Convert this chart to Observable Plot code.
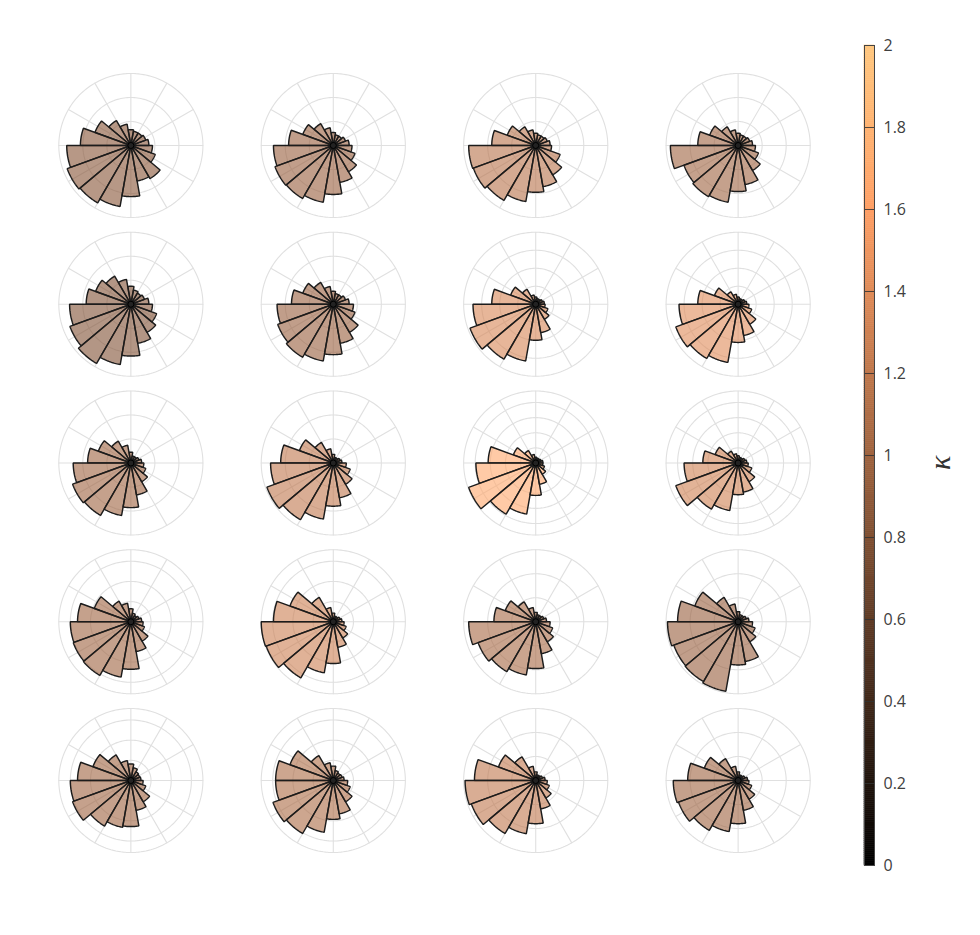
<!DOCTYPE html>
<html><head><meta charset="utf-8">
<script src="https://cdn.jsdelivr.net/npm/d3@7"></script>
<script src="https://cdn.jsdelivr.net/npm/@observablehq/plot@0.6"></script>
<style>
html,body{margin:0;padding:0;background:#fff;}
#wrap{position:relative;width:980px;height:935px;overflow:hidden;font-family:"Open Sans",sans-serif;}
#main{position:absolute;left:0;top:0;width:868px;height:935px;}
#cbar{position:absolute;left:830px;top:0;width:150px;height:935px;}
</style></head><body><div id="wrap"><div id="main"></div><div id="cbar"></div></div>
<script>
// ---- data ----
const binCenters = [10,30,50,70,90,110,130,150,170,190,210,230,250,270,290,310,330,350];
const binWidth = 20;
const nCols = 4;

// bar lengths, as a fraction of each panel's outer radius
const rose_1_1 = [0.25,0.22,0.2,0.2,0.22,0.3,0.4,0.53,0.7,0.89,0.94,0.92,0.86,0.71,0.5,0.53,0.36,0.3];
const rose_1_2 = [0.22,0.18,0.15,0.15,0.18,0.25,0.35,0.45,0.62,0.83,0.86,0.85,0.8,0.68,0.52,0.42,0.32,0.26];
const rose_1_3 = [0.2,0.17,0.15,0.15,0.17,0.22,0.3,0.42,0.61,0.93,0.92,0.88,0.79,0.65,0.58,0.47,0.36,0.22];
const rose_1_4 = [0.2,0.17,0.15,0.15,0.17,0.22,0.3,0.42,0.56,0.94,0.8,0.82,0.8,0.64,0.55,0.4,0.3,0.24];
const rose_2_1 = [0.25,0.2,0.18,0.2,0.25,0.35,0.45,0.52,0.62,0.85,0.9,0.95,0.85,0.72,0.55,0.45,0.38,0.3];
const rose_2_2 = [0.22,0.18,0.15,0.15,0.18,0.25,0.35,0.45,0.58,0.78,0.82,0.85,0.8,0.7,0.55,0.45,0.32,0.28];
const rose_2_3 = [0.12,0.1,0.08,0.08,0.1,0.13,0.24,0.37,0.61,0.87,0.97,0.88,0.8,0.5,0.4,0.24,0.18,0.13];
const rose_2_4 = [0.12,0.1,0.08,0.08,0.1,0.14,0.2,0.35,0.56,0.82,0.92,0.87,0.82,0.53,0.44,0.32,0.2,0.15];
const rose_3_1 = [0.15,0.12,0.1,0.1,0.15,0.25,0.35,0.48,0.6,0.8,0.86,0.84,0.74,0.62,0.45,0.3,0.22,0.18];
const rose_3_2 = [0.12,0.1,0.08,0.08,0.12,0.2,0.33,0.5,0.73,0.87,0.98,0.91,0.79,0.6,0.49,0.34,0.25,0.18];
const rose_3_3 = [0.1,0.08,0.07,0.07,0.08,0.12,0.2,0.33,0.66,0.83,0.99,0.82,0.72,0.45,0.3,0.18,0.13,0.1];
const rose_3_4 = [0.12,0.1,0.08,0.08,0.1,0.13,0.19,0.34,0.49,0.75,0.92,0.74,0.67,0.44,0.41,0.3,0.2,0.14];
const rose_4_1 = [0.15,0.12,0.1,0.12,0.18,0.26,0.33,0.54,0.74,0.84,0.85,0.86,0.78,0.66,0.42,0.31,0.2,0.17];
const rose_4_2 = [0.12,0.1,0.08,0.08,0.12,0.2,0.39,0.64,0.83,1.0,0.99,0.9,0.72,0.58,0.36,0.26,0.19,0.15];
const rose_4_3 = [0.15,0.12,0.1,0.1,0.13,0.2,0.32,0.45,0.58,0.93,0.85,0.8,0.75,0.65,0.45,0.32,0.25,0.2];
const rose_4_4 = [0.15,0.12,0.1,0.1,0.14,0.25,0.39,0.64,0.84,0.98,0.95,0.96,0.98,0.6,0.56,0.32,0.25,0.2];
const rose_5_1 = [0.14,0.13,0.14,0.18,0.23,0.28,0.41,0.56,0.74,0.84,0.86,0.73,0.66,0.64,0.42,0.34,0.22,0.17];
const rose_5_2 = [0.15,0.13,0.12,0.14,0.2,0.25,0.4,0.64,0.8,0.8,0.89,0.85,0.73,0.54,0.47,0.34,0.25,0.2];
const rose_5_3 = [0.13,0.1,0.08,0.08,0.12,0.2,0.38,0.55,0.85,0.98,0.95,0.85,0.75,0.6,0.4,0.28,0.2,0.16];
const rose_5_4 = [0.13,0.1,0.08,0.08,0.12,0.2,0.35,0.5,0.7,0.9,0.88,0.8,0.72,0.6,0.42,0.3,0.2,0.15];

// kappa (colour) of each panel, row by row
const kappa = [0.85,0.95,1.15,1.0, 0.8,0.95,1.35,1.4, 1.0,1.2,1.67,1.3, 1.0,1.28,1.05,0.95, 1.0,1.08,1.2,1.0];

// radial grid circles (fraction of outer radius)
const ringsA = [1/3, 2/3, 1];
const ringsB = [0.28, 0.56, 0.84, 1];
const ringsC = [0.25, 0.5, 0.75, 1];
const ringsD = [0.21, 0.42, 0.63, 0.84, 1];
const ringType = ["A","A","A","A", "A","A","C","C", "A","A","D","D", "B","B","A","A", "B","B","A","A"];
const spokeAngles = [0,30,60,90,120,150,180,210,240,270,300,330];

const colorbarTicks = [0,0.2,0.4,0.6,0.8,1,1.2,1.4,1.6,1.8,2];
const colorbarLabels = ["0","0.2","0.4","0.6","0.8","1","1.2","1.4","1.6","1.8","2"];

// ---- build tables ----
const roseValues = [rose_1_1,rose_1_2,rose_1_3,rose_1_4,rose_2_1,rose_2_2,rose_2_3,rose_2_4,
  rose_3_1,rose_3_2,rose_3_3,rose_3_4,rose_4_1,rose_4_2,rose_4_3,rose_4_4,rose_5_1,rose_5_2,rose_5_3,rose_5_4];
const ringSets = {A: ringsA, B: ringsB, C: ringsC, D: ringsD};
const rad = a => a * Math.PI / 180;
const polar = (r, a) => ({x: r * Math.cos(rad(a)), y: r * Math.sin(rad(a))});

const facetData = [];
roseValues.forEach((vals, i) => {
  const row = Math.floor(i / nCols), col = i % nCols, k = kappa[i];
  ringSets[ringType[i]].forEach((rr, m) => {
    for (let a = 0; a <= 360; a += 2) facetData.push({kind: "ring", id: `r${i}_${m}`, row, col, ...polar(rr, a)});
  });
  vals.forEach((v, j) => {
    const id = `w${i}_${j}`;
    const a0 = binCenters[j] - binWidth / 2, a1 = binCenters[j] + binWidth / 2;
    facetData.push({kind: "wedge", id, row, col, k, ...polar(0, a0)});
    for (let a = a0; a <= a1 + 1e-9; a += 1) facetData.push({kind: "wedge", id, row, col, k, ...polar(v, a)});
  });
  facetData.push({kind: "hub", row, col, k, ...polar(0, 0)});
});
const spokeData = spokeAngles.flatMap(a => [{id: a, ...polar(0, a)}, {id: a, ...polar(1, a)}]);

// Matlab "copper" colormap, clim [0, 2]
const colorScale = {type: "linear", domain: [0, 1.6, 2], range: ["rgb(0,0,0)", "rgb(255,159,101)", "rgb(255,199,127)"], interpolate: "rgb"};

const gridColor = "#e0e0e0";
const main = Plot.plot({
  width: 868, height: 935,
  marginLeft: 0, marginRight: 0, marginTop: 58.25, marginBottom: 68.25,
  style: "background: transparent; overflow: visible;",
  facet: {data: facetData, x: "col", y: "row", marginLeft: 0, marginRight: 0, marginTop: 58.25, marginBottom: 68.25},
  fx: {domain: [0,1,2,3], paddingInner: 0.288, paddingOuter: 0.288, round: false, axis: null},
  fy: {domain: [0,1,2,3,4], paddingInner: 0.0929, paddingOuter: 0.0929, round: false, axis: null},
  x: {domain: [-1, 1], axis: null},
  y: {domain: [-1, 1], axis: null},
  color: colorScale,
  marks: [
    Plot.line(spokeData, {x: "x", y: "y", z: "id", stroke: gridColor, strokeWidth: 1.1}),
    Plot.line(facetData, {filter: d => d.kind === "ring", x: "x", y: "y", z: "id", stroke: gridColor, strokeWidth: 1.1}),
    Plot.line(facetData, {filter: d => d.kind === "wedge", x: "x", y: "y", z: "id", fill: "k", fillOpacity: 0.6,
      stroke: "#1c1c1c", strokeWidth: 1.45, curve: "linear-closed", strokeLinejoin: "miter"}),
    Plot.dot(facetData, {filter: d => d.kind === "hub", x: "x", y: "y", r: 3, fill: "#222", stroke: "#000", strokeWidth: 1})
  ]
});
document.getElementById("main").appendChild(main);

// ---- colour bar ----
const ramp = d3.range(0, 400).map(i => ({lo: i * 0.005, hi: (i + 1) * 0.005, mid: (i + 0.5) * 0.005}));
const cbar = Plot.plot({
  width: 150, height: 935,
  marginLeft: 34, marginRight: 106, marginTop: 45, marginBottom: 70,
  style: "background: transparent; overflow: visible; font-family: 'Open Sans', sans-serif;",
  x: {domain: [0, 1], axis: null},
  y: {domain: [0, 2], axis: null},
  color: colorScale,
  marks: [
    Plot.rect(ramp, {y1: "lo", y2: "hi", fill: "mid", stroke: "mid", strokeWidth: 0.6}),
    Plot.ruleY(colorbarTicks, {y: d => d, stroke: "#333", strokeOpacity: 0.85, strokeWidth: 1}),
    Plot.frame({stroke: "#444", strokeWidth: 1}),
    Plot.text(colorbarTicks, {y: d => d, text: (d, i) => colorbarLabels[i], frameAnchor: "right", dx: 9,
      textAnchor: "start", fontSize: 16, fill: "#404040"}),
    Plot.text(["κ"], {text: d => d, frameAnchor: "right", dx: 66, rotate: -90, fontSize: 30,
      fontStyle: "italic", fontFamily: "Liberation Serif", fontWeight: "normal", fill: "#333"})
  ]
});
document.getElementById("cbar").appendChild(cbar);
</script>
</body></html>
